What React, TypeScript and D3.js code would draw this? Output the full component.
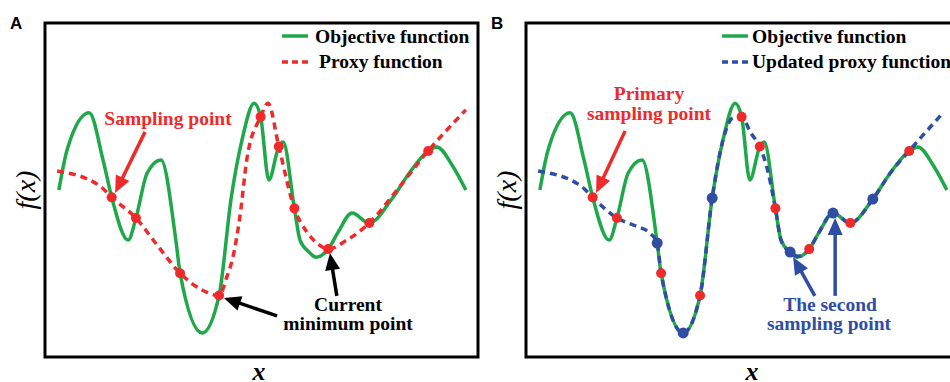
import React from 'react';
import * as d3 from 'd3';

const W = 950;
const H = 382;

// curves, x and f(x) on a 0-100 grid
const objective: [number, number][] = [
  [3.2, 50.0], [5.1, 62.0], [10.2, 73.1], [13.4, 59.0], [15.4, 47.8], [19.2, 35.0],
  [21.0, 41.6], [23.6, 55.1], [26.8, 59.0], [30.3, 34.1], [31.2, 25.1], [36.3, 7.2],
  [40.2, 18.4], [43.0, 47.6], [45.5, 65.0], [48.3, 76.0], [49.8, 71.9], [51.7, 53.0],
  [54.0, 63.0], [55.0, 64.4], [57.6, 44.5], [58.9, 35.0], [61.0, 31.4], [62.6, 29.9],
  [65.4, 32.3], [67.7, 37.4], [70.9, 43.1], [74.9, 40.1], [80.1, 47.3], [84.3, 55.4],
  [88.5, 61.7], [90.5, 62.9], [94.0, 57.5], [97.2, 50.0],
];

const proxy: [number, number][] = [
  [2.8, 55.7], [12.7, 51.2], [15.4, 47.8], [21.0, 41.6], [25.9, 33.5], [31.2, 25.1],
  [35.8, 20.4], [40.2, 18.4], [42.0, 24.0], [43.4, 29.9], [45.0, 41.9], [46.7, 59.9],
  [49.8, 71.9], [51.5, 76.0], [54.0, 63.0], [57.6, 44.5], [60.5, 37.4], [62.8, 34.1],
  [65.4, 32.3], [69.7, 35.0], [74.9, 40.1], [81.3, 50.0], [88.5, 61.7], [97.2, 74.0],
];

const updatedProxy: [number, number][] = [
  [2.8, 55.7], [12.7, 51.2], [15.4, 47.8], [21.0, 41.6], [25.2, 39.3], [28.6, 37.1],
  [30.3, 34.1], [31.2, 25.1], [36.3, 7.2], [40.2, 18.4], [43.0, 47.6], [45.5, 65.0],
  [47.8, 71.6], [49.8, 71.9], [51.9, 67.1], [54.0, 63.0], [55.9, 55.4], [57.6, 44.5],
  [58.9, 35.0], [61.0, 31.4], [62.8, 30.2], [65.4, 32.3], [67.7, 37.4], [70.9, 43.1],
  [74.9, 40.1], [80.1, 47.3], [84.3, 55.4], [88.5, 61.7], [96.3, 73.1],
];

const primarySamples: [number, number][] = [
  [15.4, 47.8], [21.0, 41.6], [31.2, 25.1], [40.2, 18.4], [49.8, 71.9],
  [54.0, 63.0], [57.6, 44.5], [65.4, 32.3], [74.9, 40.1], [88.5, 61.7],
];

const secondSamples: [number, number][] = [
  [30.3, 34.1], [36.3, 7.2], [43.0, 47.6], [61.0, 31.4], [70.9, 43.1], [80.1, 47.3],
];

const legendA = ['Objective function', 'Proxy function'];
const legendB = ['Objective function', 'Updated proxy function'];

const GREEN = '#1fa84a';
const RED = '#ee2a2a';
const BLUE = '#2f4ea3';
const SERIF = 'Liberation Serif';

type Arrow = { from: [number, number]; to: [number, number]; color: string };

function ArrowMark({ a, x, y }: { a: Arrow; x: d3.ScaleLinear<number, number>; y: d3.ScaleLinear<number, number> }) {
  const x0 = x(a.from[0]), y0 = y(a.from[1]);
  const x1 = x(a.to[0]), y1 = y(a.to[1]);
  const len = Math.hypot(x1 - x0, y1 - y0);
  const ux = (x1 - x0) / len, uy = (y1 - y0) / len;
  const hl = 17, hw = 7.5;
  const bx = x1 - ux * hl, by = y1 - uy * hl;
  const pts = [[x1, y1], [bx - uy * hw, by + ux * hw], [bx + uy * hw, by - ux * hw]];
  return (
    <g>
      <line x1={x0} y1={y0} x2={bx + ux * 2} y2={by + uy * 2} stroke={a.color} strokeWidth={3.5} />
      <polygon points={pts.map(p => p.join(',')).join(' ')} fill={a.color} />
    </g>
  );
}

function Panel({ left, letter, second }: { left: number; letter: string; second: boolean }) {
  const x = d3.scaleLinear().domain([0, 100]).range([left, left + 433]);
  const y = d3.scaleLinear().domain([0, 100]).range([357, 23]);
  const line = d3.line<[number, number]>().x(d => x(d[0])).y(d => y(d[1])).curve(d3.curveMonotoneX);
  const proxyColor = second ? BLUE : RED;
  const legend = second ? legendB : legendA;
  const arrows: Arrow[] = second
    ? [
        { from: [22.9, 67.7], to: [16.2, 49.1], color: RED },
        { from: [71.4, 18.3], to: [71.4, 41.6], color: BLUE },
        { from: [66.7, 18.3], to: [61.7, 29.9], color: BLUE },
      ]
    : [
        { from: [23.1, 67.4], to: [16.2, 49.1], color: RED },
        { from: [67.4, 18.3], to: [65.8, 31.1], color: '#000' },
        { from: [53.6, 12.3], to: [41.3, 17.7], color: '#000' },
      ];
  // legend sits further left in panel B
  const lx = left + (second ? 196 : 237);
  return (
    <g>
      <text x={left - 35} y={29} fontFamily="Liberation Sans" fontWeight="bold" fontSize={17}>
        {letter}
      </text>
      <rect x={left} y={23} width={433} height={334} fill="none" stroke="#000" strokeWidth={3} />
      <path d={line(objective) || ''} fill="none" stroke={GREEN} strokeWidth={3.5} />
      <path
        d={line(second ? updatedProxy : proxy) || ''}
        fill="none"
        stroke={proxyColor}
        strokeWidth={3.5}
        strokeDasharray="7,5"
      />
      {primarySamples.map((d, i) => (
        <circle key={'p' + i} cx={x(d[0])} cy={y(d[1])} r={5} fill={RED} />
      ))}
      {second &&
        secondSamples.map((d, i) => <circle key={'s' + i} cx={x(d[0])} cy={y(d[1])} r={5.5} fill={BLUE} />)}
      {arrows.map((a, i) => (
        <ArrowMark key={i} a={a} x={x} y={y} />
      ))}
      {/* legend */}
      <line x1={lx} x2={lx + 26} y1={36} y2={36} stroke={GREEN} strokeWidth={3.5} />
      <line x1={lx} x2={lx + 26} y1={62} y2={62} stroke={proxyColor} strokeWidth={3.5} strokeDasharray="6,4" />
      <g fontFamily={SERIF} fontWeight="bold" fontSize={19.5}>
        <text x={lx + (second ? 30 : 33)} y={43}>{legend[0]}</text>
        <text x={lx + (second ? 30 : 37)} y={68}>{legend[1]}</text>
      </g>
      {/* annotations */}
      <g fontFamily={SERIF} fontWeight="bold" fontSize={19.5} textAnchor="middle">
        {second ? (
          <>
            <text x={left + 123} y={100} fill={RED}>Primary</text>
            <text x={left + 123} y={120} fill={RED}>sampling point</text>
            <text x={left + 304} y={311} fill={BLUE}>The second</text>
            <text x={left + 303} y={330} fill={BLUE}>sampling point</text>
          </>
        ) : (
          <>
            <text x={left + 123} y={125} fill={RED}>Sampling point</text>
            <text x={left + 303} y={311} fill="#000">Current</text>
            <text x={left + 303} y={330} fill="#000">minimum point</text>
          </>
        )}
      </g>
      <text
        transform={`translate(${left - 10},190) rotate(-90)`}
        textAnchor="middle"
        fontFamily={SERIF}
        fontStyle="italic"
        fontSize={28}
      >
        f(x)
      </text>
      <text
        x={left + (second ? 226 : 214)}
        y={380}
        textAnchor="middle"
        fontFamily={SERIF}
        fontStyle="italic"
        fontWeight="bold"
        fontSize={26}
      >
        x
      </text>
    </g>
  );
}

export default function App() {
  return (
    <svg width={W} height={H} style={{ position: 'absolute', left: 0, top: 0, background: '#fff' }}>
      <rect width={W} height={H} fill="#fff" />
      <Panel left={45} letter="A" second={false} />
      <Panel left={526} letter="B" second={true} />
    </svg>
  );
}
